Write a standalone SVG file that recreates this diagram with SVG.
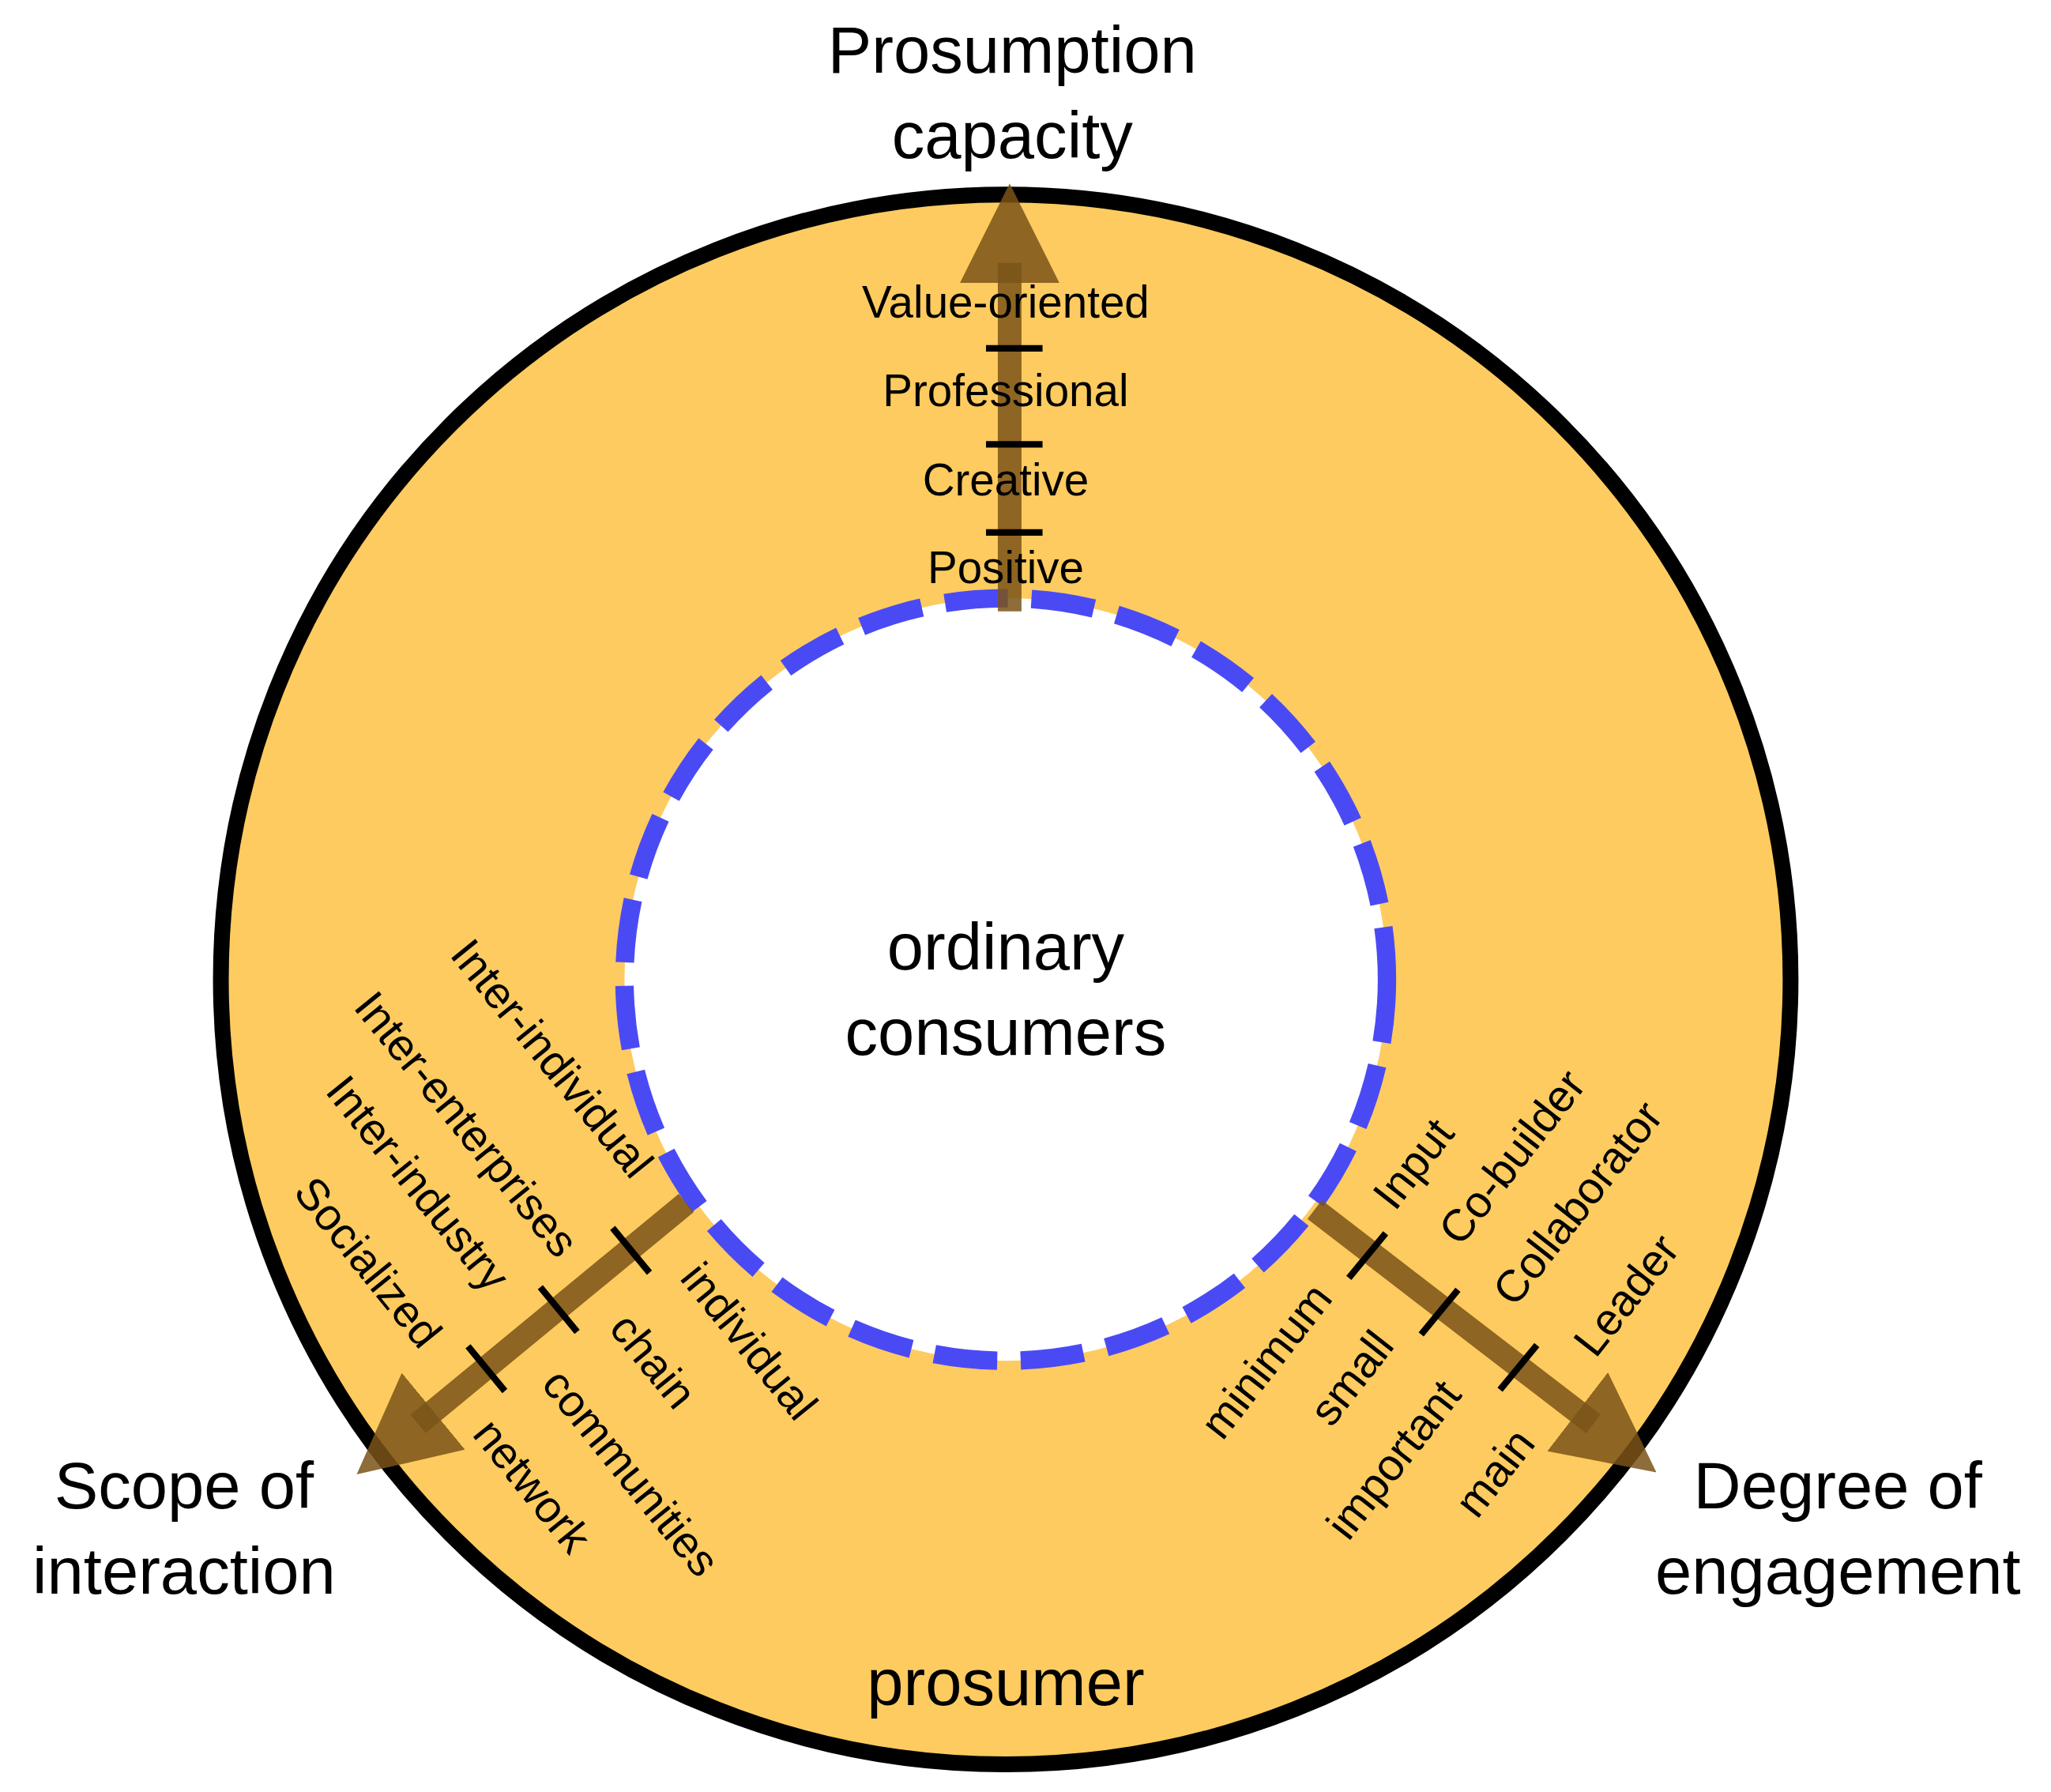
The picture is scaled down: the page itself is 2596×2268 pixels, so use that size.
<svg xmlns="http://www.w3.org/2000/svg" width="2596" height="2268" viewBox="0 0 2596 2268">
<defs>
<style>
text{font-family:"Liberation Sans",Arial,sans-serif;fill:#000;text-anchor:middle;dominant-baseline:central}
.big{font-size:50px}
.sm{font-size:34px}
.axis{stroke:#7a5418;stroke-opacity:0.85;stroke-width:18;fill:none}
.tick{stroke:#000;stroke-width:5}
</style>
<marker id="ah" viewBox="0 0 10 10" refX="2" refY="5" markerWidth="4.2" markerHeight="4.2" orient="auto" markerUnits="strokeWidth">
<path d="M0,0 L10,5 L0,10 z" fill="#7a5418" fill-opacity="0.85"/>
</marker>
</defs>
<rect width="2596" height="2268" fill="#fff"/>
<g transform="scale(1.664)">
<g id="outer"><circle cx="765" cy="745" r="597" fill="#fdcb5f" stroke="#000" stroke-width="12"/></g>
<g id="inner"><circle cx="765" cy="745" r="290" fill="#fff" stroke="#4a4af5" stroke-width="14" stroke-dasharray="48,18"/>
<text class="big" x="765" y="720">ordinary</text><text class="big" x="765" y="785">consumers</text></g>
<g id="connectors">
<line class="axis" x1="768" y1="465" x2="768" y2="200" marker-end="url(#ah)"/>
<line class="axis" x1="522" y1="915" x2="318" y2="1083" marker-end="url(#ah)"/>
<line class="axis" x1="1000" y1="920" x2="1212" y2="1083" marker-end="url(#ah)"/>
</g>
<g id="ticks">
<line class="tick" x1="750" y1="265" x2="793" y2="265"/>
<line class="tick" x1="750" y1="338" x2="793" y2="338"/>
<line class="tick" x1="750" y1="405" x2="793" y2="405"/>
<line class="tick" x1="466" y1="934" x2="494" y2="968"/>
<line class="tick" x1="411" y1="979" x2="439" y2="1013"/>
<line class="tick" x1="356" y1="1024" x2="384" y2="1058"/>
<line class="tick" x1="1054" y1="938" x2="1026" y2="972"/>
<line class="tick" x1="1109" y1="981" x2="1081" y2="1015"/>
<line class="tick" x1="1169" y1="1023" x2="1141" y2="1057"/>
</g>
<g id="capacity">
<text class="big" x="770" y="38">Prosumption</text><text class="big" x="770" y="103">capacity</text>
<text class="sm" x="765" y="230">Value-oriented</text>
<text class="sm" x="765" y="297">Professional</text>
<text class="sm" x="765" y="365">Creative</text>
<text class="sm" x="765" y="432">Positive</text>
</g>
<g id="scope">
<text class="big" x="140" y="1130">Scope of</text><text class="big" x="140" y="1195">interaction</text>
<text class="sm" transform="translate(420,805) rotate(51)">Inter-individual</text>
<text class="sm" transform="translate(355,855) rotate(51)">Inter-enterprises</text>
<text class="sm" transform="translate(318,900) rotate(51)">Inter-industry</text>
<text class="sm" transform="translate(280,960) rotate(51)">Socialized</text>
<text class="sm" transform="translate(570,1020) rotate(51)">individual</text>
<text class="sm" transform="translate(497,1035) rotate(51)">chain</text>
<text class="sm" transform="translate(480,1120) rotate(51)">communities</text>
<text class="sm" transform="translate(405,1130) rotate(51)">network</text>
</g>
<g id="engagement">
<text class="big" x="1398" y="1130">Degree of</text><text class="big" x="1398" y="1195">engagement</text>
<text class="sm" transform="translate(1075,885) rotate(-52)">Input</text>
<text class="sm" transform="translate(1150,880) rotate(-52)">Co-builder</text>
<text class="sm" transform="translate(1200,915) rotate(-52)">Collaborator</text>
<text class="sm" transform="translate(1237,985) rotate(-52)">Leader</text>
<text class="sm" transform="translate(963,1035) rotate(-52)">minimum</text>
<text class="sm" transform="translate(1028,1048) rotate(-52)">small</text>
<text class="sm" transform="translate(1060,1110) rotate(-52)">important</text>
<text class="sm" transform="translate(1137,1120) rotate(-52)">main</text>
</g>
<g id="prosumer"><text class="big" x="765" y="1280">prosumer</text></g>
</g>
</svg>
